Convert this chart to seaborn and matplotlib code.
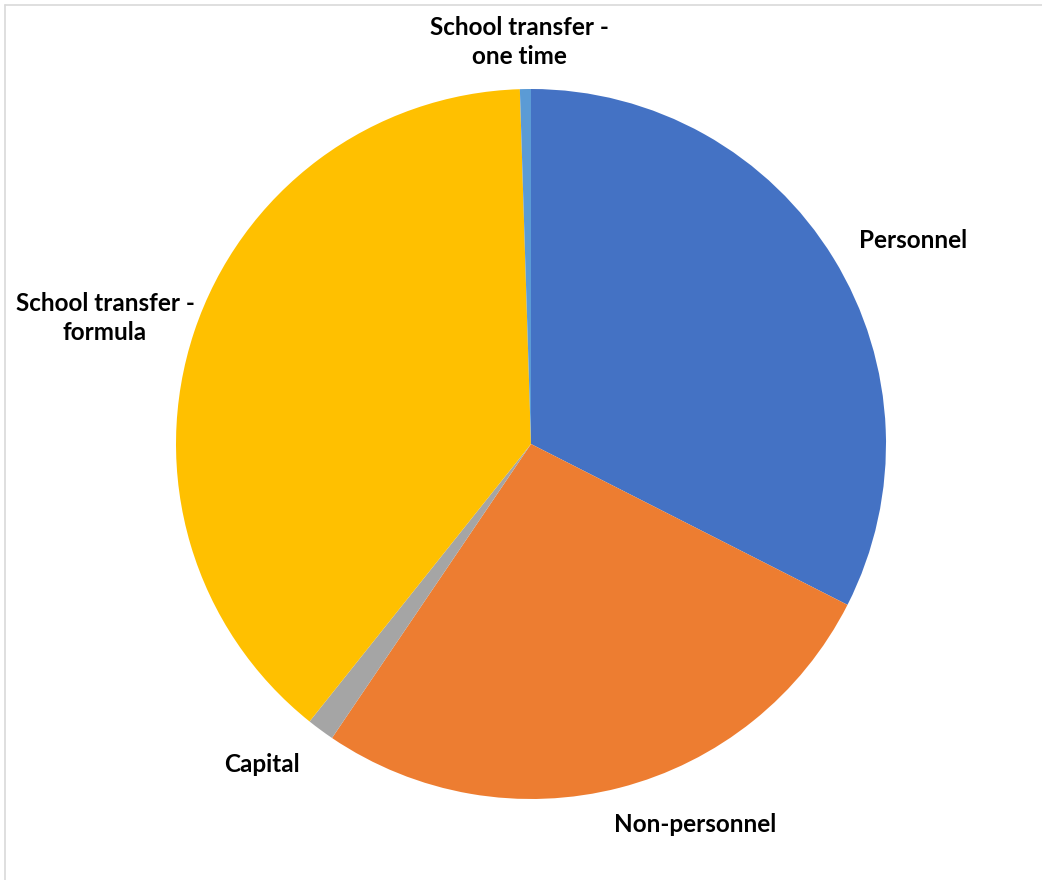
import matplotlib
matplotlib.use("Agg")
import matplotlib.pyplot as plt
import seaborn as sns
from matplotlib.lines import Line2D

categories = ["Personnel", "Non-personnel", "Capital", "School transfer - formula", "School transfer - one time"]
label_texts = ["Personnel", "Non-personnel", "Capital", "School transfer -\nformula", "School transfer -\none time"]
values = [32.5, 27.0, 1.25, 38.8, 0.5]
colors = ["#4472C4", "#ED7D31", "#A5A5A5", "#FFC000", "#5B9BD5"]

sns.set_theme(style="white")
plt.rcParams['font.family'] = ['Lato', 'DejaVu Sans']

W, H = 1042, 880
fig = plt.figure(figsize=(W / 100, H / 100), dpi=100)
fig.patch.set_facecolor("white")

cx, cy, r = 531, 444, 355
ax = fig.add_axes([(cx - r) / W, (H - cy - r) / H, 2 * r / W, 2 * r / H])
ax.pie(values, colors=colors, startangle=90, counterclock=False,
       wedgeprops=dict(linewidth=0))
ax.set_xlim(-1, 1)
ax.set_ylim(-1, 1)
ax.set_aspect('auto')
ax.axis('off')

label_pos = [(913, 240), (695, 825), (262, 764), (105, 318), (519, 42)]
for txt, (px, py) in zip(label_texts, label_pos):
    ax.text((px - cx) / r, (cy - py) / r, txt, ha='center', va='center',
            fontsize=17.5, fontweight='bold', color='#000000',
            linespacing=1.3, clip_on=False)

# light chart frame
fig.add_artist(Line2D([5 / W, 5 / W], [0, 1 - 5 / H], transform=fig.transFigure, color='#D9D9D9', lw=1.2))
fig.add_artist(Line2D([5 / W, 1], [1 - 5 / H, 1 - 5 / H], transform=fig.transFigure, color='#D9D9D9', lw=1.2))

fig.savefig("out.png", dpi=100, facecolor="white")
